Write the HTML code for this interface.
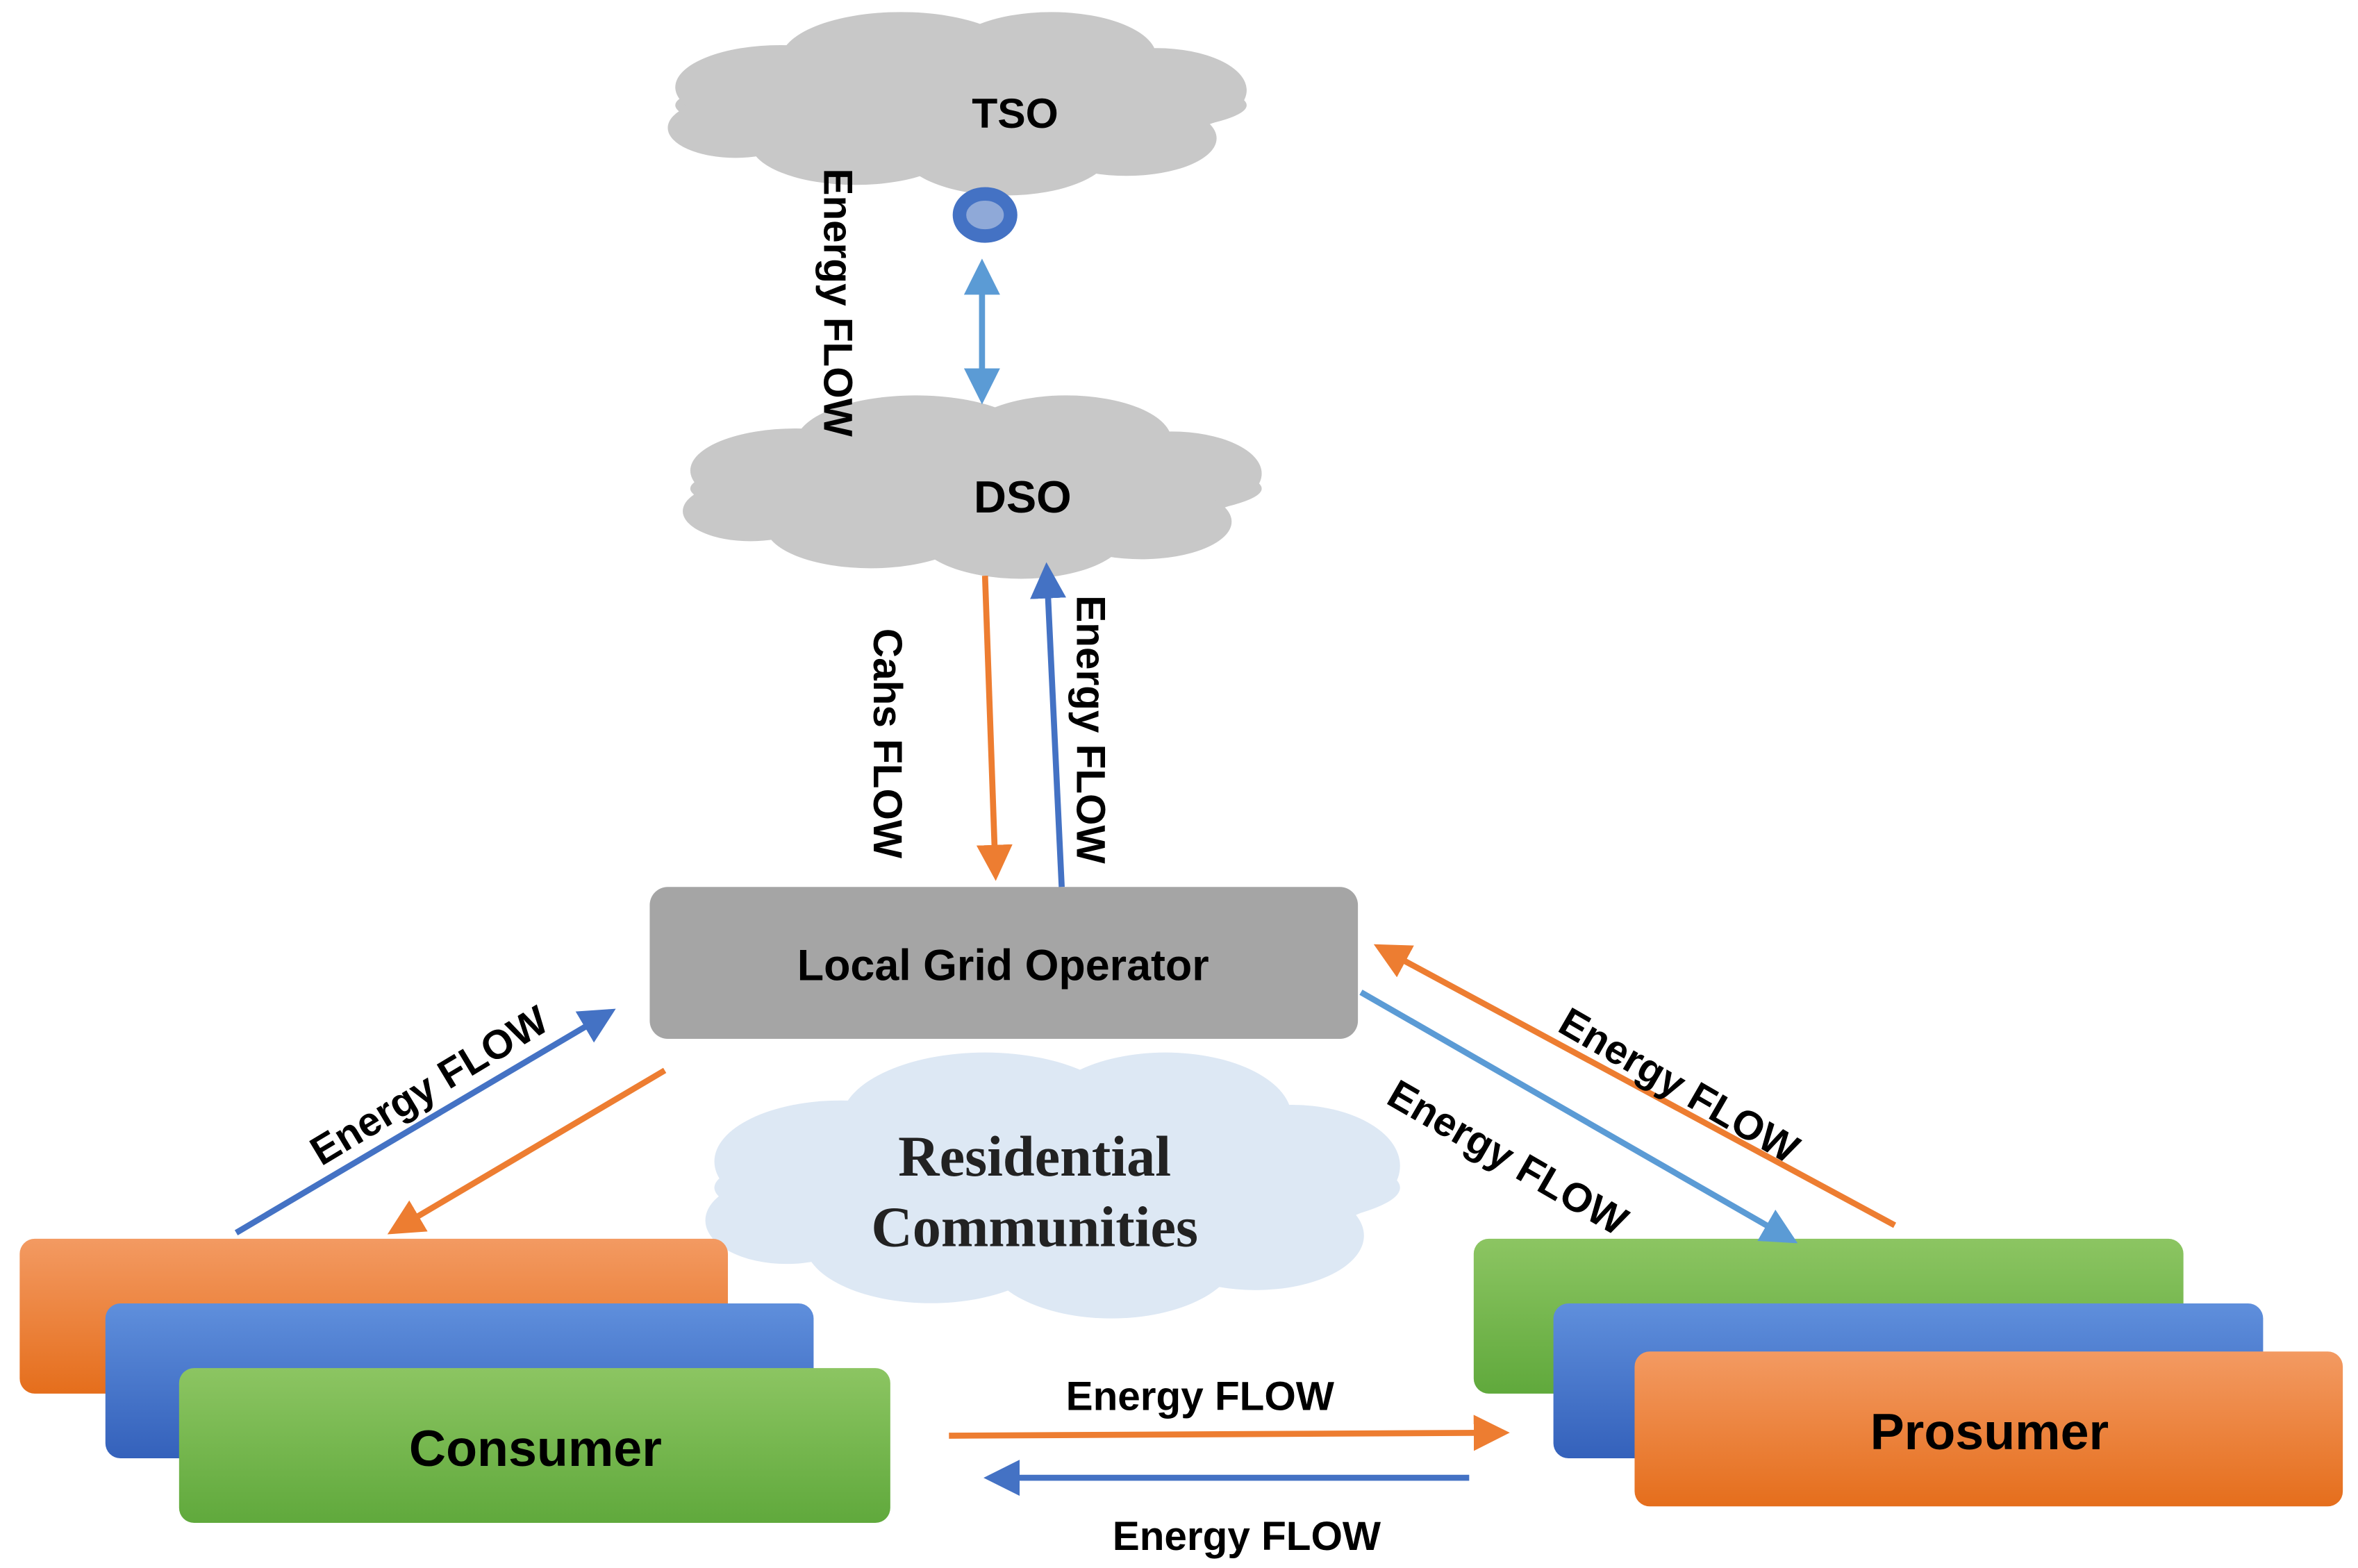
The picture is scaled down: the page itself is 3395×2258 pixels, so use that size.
<!DOCTYPE html>
<html><head><meta charset="utf-8"><style>
html,body{margin:0;padding:0;background:#fff;}
svg{display:block;}
text{font-family:"Liberation Sans",sans-serif;font-weight:bold;}
</style></head><body>
<svg width="3395" height="2258" viewBox="0 0 1568 1043" xmlns="http://www.w3.org/2000/svg">
<defs>
<linearGradient id="go" x1="0" y1="0" x2="0" y2="1"><stop offset="0" stop-color="#f39a62"/><stop offset="1" stop-color="#e56e1c"/></linearGradient>
<linearGradient id="gb" x1="0" y1="0" x2="0" y2="1"><stop offset="0" stop-color="#5f8fdc"/><stop offset="1" stop-color="#3461bb"/></linearGradient>
<linearGradient id="gg" x1="0" y1="0" x2="0" y2="1"><stop offset="0" stop-color="#8cc562"/><stop offset="1" stop-color="#60a93c"/></linearGradient>
<marker id="ao" markerWidth="6" markerHeight="6" refX="5" refY="3" orient="auto" markerUnits="strokeWidth"><path d="M0,0 L6,3 L0,6 z" fill="#ed7d31"/></marker>
<marker id="ab" markerWidth="6" markerHeight="6" refX="5" refY="3" orient="auto" markerUnits="strokeWidth"><path d="M0,0 L6,3 L0,6 z" fill="#4472c4"/></marker>
<marker id="al" markerWidth="6" markerHeight="6" refX="5" refY="3" orient="auto" markerUnits="strokeWidth"><path d="M0,0 L6,3 L0,6 z" fill="#5b9bd5"/></marker>
<marker id="alr" markerWidth="6" markerHeight="6" refX="1" refY="3" orient="auto" markerUnits="strokeWidth"><path d="M6,0 L0,3 L6,6 z" fill="#5b9bd5"/></marker>
<g id="cloud">
<ellipse cx="0" cy="0" rx="190" ry="25"/>
<ellipse cx="-120" cy="-12" rx="70" ry="28"/>
<ellipse cx="-40" cy="-30" rx="80" ry="32"/>
<ellipse cx="60" cy="-32" rx="70" ry="30"/>
<ellipse cx="130" cy="-10" rx="60" ry="28"/>
<ellipse cx="-150" cy="15" rx="45" ry="20"/>
<ellipse cx="-70" cy="25" rx="70" ry="28"/>
<ellipse cx="30" cy="30" rx="70" ry="30"/>
<ellipse cx="110" cy="22" rx="60" ry="25"/>
</g>
</defs>
<g fill="#c8c8c8"><use href="#cloud" x="639" y="70"/><use href="#cloud" x="649" y="325"/></g>
<text x="675" y="85" font-size="28" text-anchor="middle" fill="#000">TSO</text>
<text x="680" y="341" font-size="30" text-anchor="middle" fill="#000">DSO</text>
<g fill="#dde8f4" transform="translate(703,790) scale(1.2,1.45)"><use href="#cloud"/></g>
<text x="688" y="782" font-size="38" text-anchor="middle" style="font-family:'Liberation Serif',serif" fill="#222">Residential</text>
<text x="688" y="829" font-size="38" text-anchor="middle" style="font-family:'Liberation Serif',serif" fill="#222">Communities</text>
<ellipse cx="655" cy="143" rx="17" ry="14" fill="#8fa9d8" stroke="#4472c4" stroke-width="9"/>
<line x1="653" y1="176" x2="653" y2="265" stroke="#5b9bd5" stroke-width="4" marker-end="url(#al)" marker-start="url(#alr)"/>
<text transform="translate(548,112) rotate(90)" font-size="27">Energy FLOW</text>
<line x1="655" y1="383" x2="662" y2="582" stroke="#ed7d31" stroke-width="4" marker-end="url(#ao)"/>
<line x1="706" y1="590" x2="696" y2="378" stroke="#4472c4" stroke-width="4" marker-end="url(#ab)"/>
<text transform="translate(581,418) rotate(90)" font-size="27">Cahs FLOW</text>
<text transform="translate(716,396) rotate(90)" font-size="27">Energy FLOW</text>
<rect x="432" y="590" width="471" height="101" rx="12" fill="#a5a5a5"/>
<text x="667" y="652" font-size="29" text-anchor="middle">Local Grid Operator</text>
<rect x="13" y="824" width="471" height="103" rx="10" fill="url(#go)"/>
<rect x="70" y="867" width="471" height="103" rx="10" fill="url(#gb)"/>
<rect x="119" y="910" width="473" height="103" rx="10" fill="url(#gg)"/>
<text x="356" y="975" font-size="34" text-anchor="middle">Consumer</text>
<rect x="980" y="824" width="472" height="103" rx="10" fill="url(#gg)"/>
<rect x="1033" y="867" width="472" height="103" rx="10" fill="url(#gb)"/>
<rect x="1087" y="899" width="471" height="103" rx="10" fill="url(#go)"/>
<text x="1323" y="964" font-size="34" text-anchor="middle">Prosumer</text>
<line x1="157" y1="820" x2="406" y2="673" stroke="#4472c4" stroke-width="4" marker-end="url(#ab)"/>
<line x1="442" y1="712" x2="261" y2="819" stroke="#ed7d31" stroke-width="4" marker-end="url(#ao)"/>
<text transform="translate(290,730) rotate(-31)" font-size="27" text-anchor="middle">Energy FLOW</text>
<line x1="905" y1="660" x2="1192" y2="825" stroke="#5b9bd5" stroke-width="4" marker-end="url(#al)"/>
<line x1="1260" y1="815" x2="917" y2="630" stroke="#ed7d31" stroke-width="4" marker-end="url(#ao)"/>
<text transform="translate(998,778) rotate(30)" font-size="27" text-anchor="middle">Energy FLOW</text>
<text transform="translate(1112,730) rotate(30)" font-size="27" text-anchor="middle">Energy FLOW</text>
<line x1="631" y1="955" x2="1000" y2="953" stroke="#ed7d31" stroke-width="4" marker-end="url(#ao)"/>
<text x="798" y="938" font-size="27" text-anchor="middle">Energy FLOW</text>
<line x1="977" y1="983" x2="658" y2="983" stroke="#4472c4" stroke-width="4" marker-end="url(#ab)"/>
<text x="829" y="1031" font-size="27" text-anchor="middle">Energy FLOW</text>
</svg>
</body></html>
